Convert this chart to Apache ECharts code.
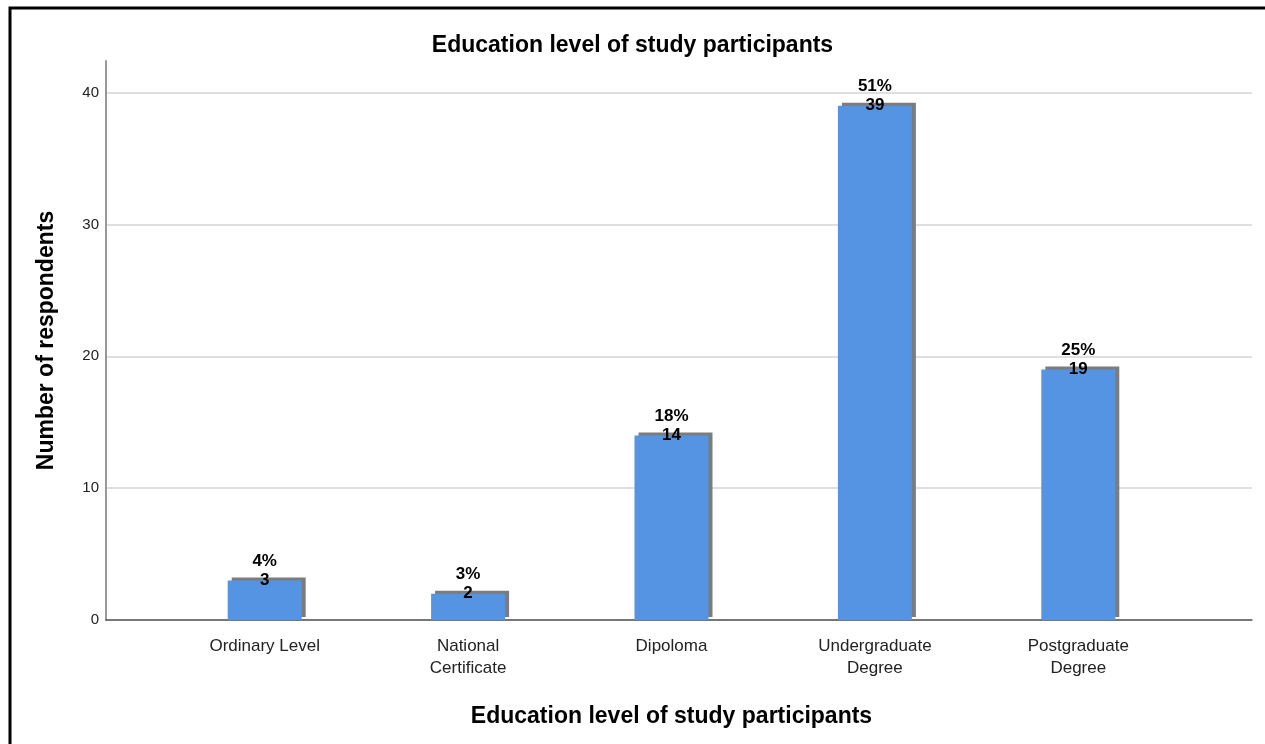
<!DOCTYPE html>
<html>
<head>
<meta charset="utf-8">
<script src="https://cdn.jsdelivr.net/npm/echarts@6/dist/echarts.min.js"></script>
<style>
  html, body { margin: 0; padding: 0; background: #fff; }
  #chart { width: 1265px; height: 744px; }
</style>
</head>
<body>
<div id="chart"></div>
<script>
// Education level categories and respondent counts
const categories = ['Ordinary Level', 'National\nCertificate', 'Dipoloma', 'Undergraduate\nDegree', 'Postgraduate\nDegree'];
const counts = [3, 2, 14, 39, 19];
const percents = ['4%', '3%', '18%', '51%', '25%'];
const yTicks = [0, 10, 20, 30, 40];

const FONT = 'Liberation Sans, Arial, sans-serif';
const yMax = 42.4;

const chart = echarts.init(document.getElementById('chart'), null, { renderer: 'canvas' });

const option = {
  backgroundColor: '#ffffff',
  animation: false,
  title: {
    text: 'Education level of study participants',
    left: 'center',
    top: 29,
    textStyle: { fontFamily: FONT, fontSize: 23, fontWeight: 'bold', color: '#000' }
  },
  graphic: [{
    type: 'rect',
    shape: { x: 10, y: 8, width: 1275, height: 760 },
    style: { fill: 'none', stroke: '#000', lineWidth: 3 },
    silent: true
  }],
  grid: [
    { left: 106, right: 13, top: 61, bottom: 124 },
    { left: 163, right: 85, top: 61, bottom: 124 }
  ],
  xAxis: [
    {
      gridIndex: 0, type: 'value', min: 0, max: 1,
      axisLine: { show: true, lineStyle: { color: '#555', width: 1.5 } },
      axisTick: { show: false }, axisLabel: { show: false }, splitLine: { show: false }
    },
    {
      gridIndex: 1, type: 'category', data: categories,
      axisLine: { show: false }, axisTick: { show: false },
      axisLabel: { fontFamily: FONT, fontSize: 17, color: '#222', lineHeight: 22, margin: 15 },
      name: 'Education level of study participants',
      nameLocation: 'middle', nameGap: 85,
      nameTextStyle: { fontFamily: FONT, fontSize: 23, fontWeight: 'bold', color: '#000' }
    }
  ],
  yAxis: [
    {
      gridIndex: 0, type: 'value', min: yTicks[0], max: yMax, interval: 10,
      axisLine: { show: true, lineStyle: { color: '#999', width: 2 } },
      axisTick: { show: false },
      axisLabel: {
        fontFamily: FONT, fontSize: 15, color: '#222', margin: 7,
        formatter: v => (yTicks.indexOf(v) >= 0 ? String(v) : '')
      },
      splitLine: {
        show: true,
        lineStyle: { color: ['#d4d4d4', '#d4d4d4', '#d4d4d4', '#d4d4d4', '#d4d4d4', 'rgba(0,0,0,0)'], width: 1.5 }
      },
      name: 'Number of respondents',
      nameLocation: 'middle', nameGap: 48,
      nameTextStyle: { fontFamily: FONT, fontSize: 23, fontWeight: 'bold', color: '#000' }
    },
    {
      gridIndex: 1, type: 'value', min: 0, max: yMax, show: false
    }
  ],
  series: [{
    type: 'bar',
    xAxisIndex: 1, yAxisIndex: 1,
    data: counts,
    barWidth: 74,
    itemStyle: {
      color: '#5594e3',
      shadowColor: '#7c7c7c',
      shadowBlur: 0,
      shadowOffsetX: 4,
      shadowOffsetY: -3
    },
    label: {
      show: true,
      position: 'top',
      distance: -9,
      formatter: p => '{p|' + percents[p.dataIndex] + '}\n{n|' + p.value + '}',
      rich: {
        p: { fontFamily: FONT, fontSize: 17, fontWeight: 'bold', color: '#000', lineHeight: 19, align: 'center' },
        n: { fontFamily: FONT, fontSize: 17, fontWeight: 'bold', color: '#000', lineHeight: 19, align: 'center' }
      }
    }
  }]
};

chart.setOption(option);
</script>
</body>
</html>
